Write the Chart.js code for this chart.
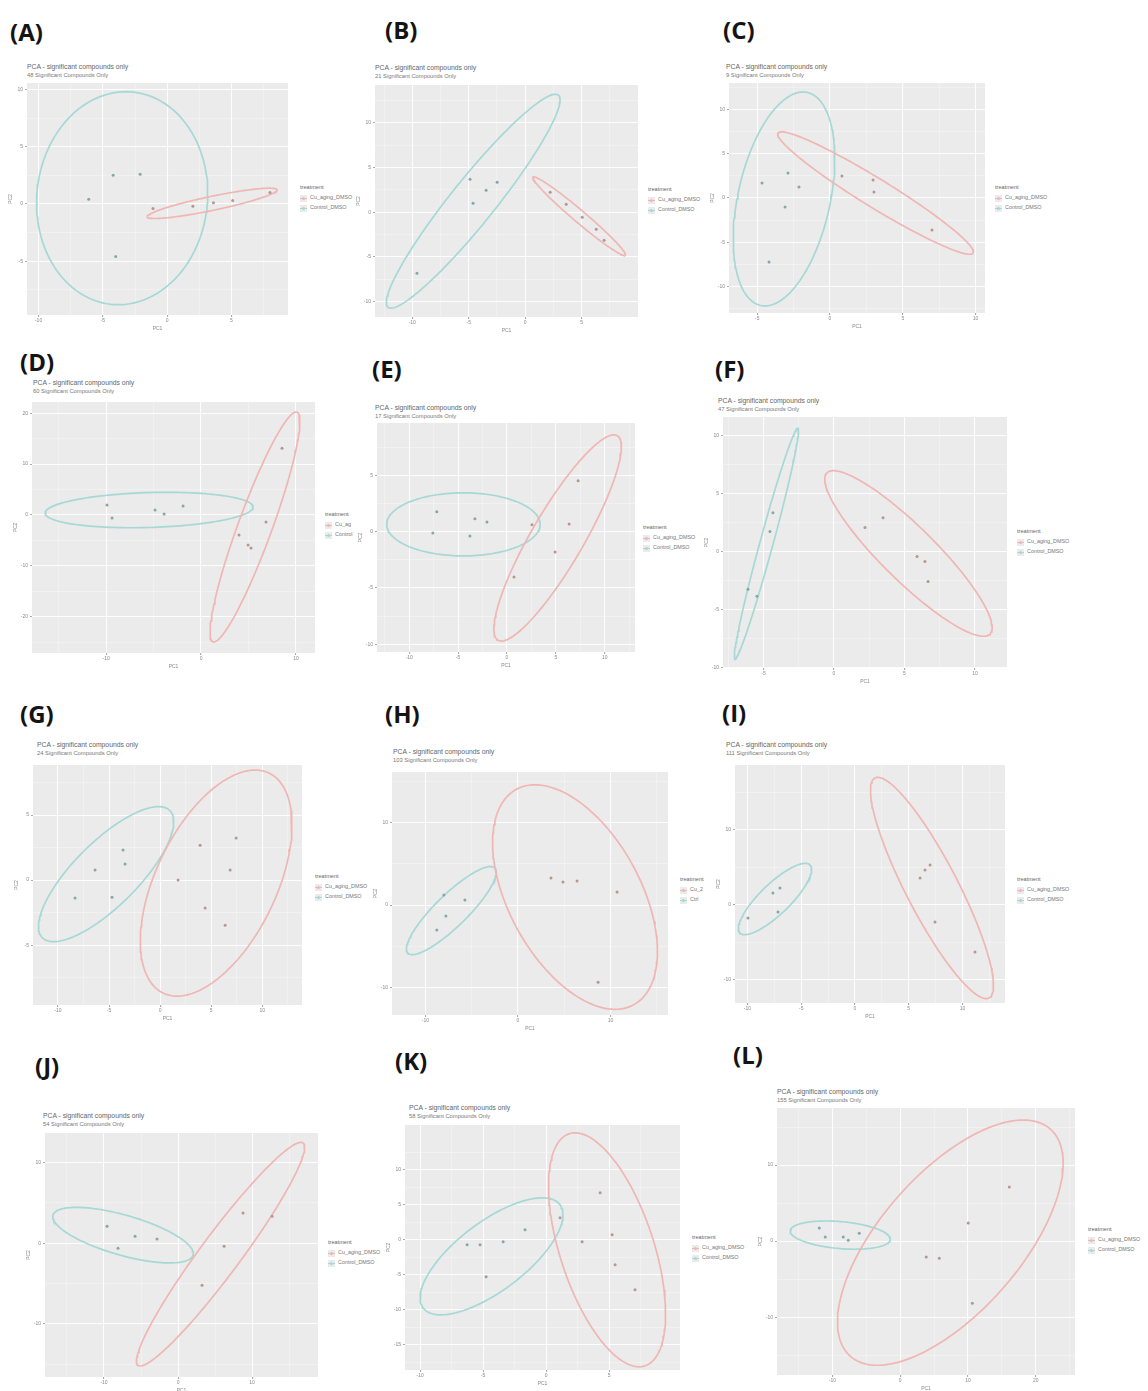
<!DOCTYPE html>
<html>
<head>
<meta charset="utf-8">
<title>PCA - significant compounds only</title>
<script src="https://cdn.jsdelivr.net/npm/chart.js@4.4.1/dist/chart.umd.min.js"></script>
<style>
  html, body { margin: 0; padding: 0; background: #ffffff; }
  #fig { position: relative; width: 1148px; height: 1391px; overflow: hidden;
         font-family: 'Liberation Sans', Arial, sans-serif; }
  .tag { position: absolute; font-family: 'Open Sans', sans-serif; font-weight: 700;
         font-size: 24px; line-height: 1; color: #141414; }
  .ttl { position: absolute; font-size: 6.8px; line-height: 1; color: #666; white-space: nowrap; }
  .sub { position: absolute; font-size: 5.8px; line-height: 1; color: #777; white-space: nowrap; }
  .lgt { position: absolute; font-size: 5.6px; line-height: 1; color: #666; white-space: nowrap; }
  .lge { position: absolute; font-size: 5.4px; line-height: 1; color: #777; white-space: nowrap; }
  .key { position: absolute; width: 7px; height: 7px; background: #ebebeb; }
  .key i { position: absolute; left: 2px; top: 2px; width: 3px; height: 3px; border-radius: 50%; }
  .key b { position: absolute; left: 0; top: 3px; width: 7px; height: 1px; }
  canvas { position: absolute; }
</style>
</head>
<body>
<div id="fig"></div>
<script>
// ---------------- data: PCA scores per panel (PC1, PC2) ----------------
const panelIds = ['A', 'B', 'C', 'D', 'E', 'F', 'G', 'H', 'I', 'J', 'K', 'L'];
const compoundCounts = [48, 21, 9, 60, 17, 47, 24, 103, 111, 54, 58, 155];

// treated group (first legend level, salmon)
const treatedPC1 = [
  [-1.1, 2.0, 3.6, 5.1, 8.0],
  [2.22, 3.64, 5.06, 6.3, 7.0],
  [0.82, 2.96, 3.02, 7.01],
  [8.53, 6.84, 4.0, 4.95, 5.26],
  [7.28, 6.36, 4.92, 0.72, 2.56],
  [2.2, 3.48, 5.89, 6.45, 6.67],
  [1.76, 3.92, 6.86, 7.45, 4.41, 6.37],
  [3.57, 4.86, 6.38, 10.7, 8.65],
  [6.05, 6.51, 6.98, 7.44, 11.16],
  [8.78, 12.7, 6.22, 3.24],
  [1.11, 4.29, 2.86, 5.24, 5.48, 7.06],
  [16.1, 10.04, 3.84, 5.76, 10.64]
];
const treatedPC2 = [
  [-0.4, -0.2, 0.1, 0.3, 1.0],
  [2.23, 0.89, -0.56, -1.9, -3.13],
  [2.49, 2.03, 0.68, -3.62],
  [13.1, -1.37, -3.92, -5.88, -6.47],
  [4.55, 0.71, -1.79, -4.02, 0.63],
  [2.06, 2.92, -0.43, -0.86, -2.58],
  [0, 2.69, 0.77, 3.23, -2.15, -3.46],
  [3.27, 2.79, 2.91, 1.58, -9.33],
  [3.6, 4.67, 5.33, -2.27, -6.27],
  [3.73, 3.35, -0.37, -5.22],
  [3.14, 6.71, -0.29, 0.71, -3.57, -7.14],
  [7.1, 2.37, -2.1, -2.24, -8.16]
];

// control group (second legend level, teal)
const controlPC1 = [
  [-4.2, -2.1, -6.1, -4.0],
  [-9.58, -4.61, -3.46, -2.48, -4.88],
  [-4.67, -2.89, -2.13, -3.09, -4.19],
  [-9.9, -9.37, -4.84, -3.89, -1.89],
  [-7.18, -3.28, -2.05, -7.59, -3.79],
  [-4.33, -4.54, -6.1, -5.46],
  [-8.33, -6.37, -4.71, -3.63, -3.43],
  [-8.0, -5.73, -7.78, -8.76],
  [-9.95, -7.63, -6.98, -7.16],
  [-9.59, -5.81, -2.84, -8.11],
  [-6.27, -5.24, -3.41, -1.67, -4.76],
  [-11.96, -11.08, -8.42, -7.68, -6.06]
];
const controlPC2 = [
  [2.5, 2.6, 0.4, -4.6],
  [-6.82, 1.0, 2.46, 3.35, 3.69],
  [1.69, 2.82, 1.24, -1.02, -7.23],
  [1.96, -0.59, 0.98, 0.2, 1.76],
  [1.79, 1.16, 0.89, -0.09, -0.36],
  [3.35, 1.72, -3.26, -3.86],
  [-1.38, 0.77, -1.31, 2.31, 1.23],
  [1.21, 0.61, -1.33, -3.03],
  [-1.73, 1.6, 2.27, -0.93],
  [2.11, 0.87, 0.5, -0.62],
  [-0.71, -0.71, -0.29, 1.43, -5.29],
  [1.71, 0.53, 0.53, 0.13, 1.05]
];

// 95% ellipses: centre (cx, cy) and two conjugate semi-diameters (ux, uy), (vx, vy)
const treatedEllipse = [
  [3.5, 0.05, 5.05, 1.18, 0.11, -0.6],
  [4.79, -0.45, 4.08, -4.36, -0.35, -0.51],
  [3.13, 0.56, 6.70, -6.78, -0.52, -1.38],
  [5.68, -2.35, 4.42, 22.55, 1.68, -1.14],
  [5.18, -0.54, 6.10, 9.11, 2.31, -1.17],
  [5.28, -0.17, 5.78, -6.95, 1.35, 1.64],
  [5.49, -0.23, 3.82, 8.69, 6.37, 0],
  [6.16, 0.97, -4.32, 13.58, 7.78, 0],
  [7.16, 2.27, -5.3, 14.67, 2.15, 1.6],
  [5.74, -1.37, 11.15, 13.79, 2.16, -1.49],
  [4.84, -1.43, -2.54, 16.71, 3.89, 0],
  [7.39, -0.2, 10.78, 16.12, 12.7, 0]
];
const controlEllipse = [
  [-3.5, 0.5, 6.65, 0, 0.3, 9.3],
  [-4.6, 1.23, 7.54, 11.84, 1.53, -1.54],
  [-3.16, -0.11, 1.31, 12.09, 3.23, 0],
  [-5.47, 0.98, 10.95, 0.59, 0, 3.43],
  [-4.46, 0.67, 7.85, 0, 0, 2.81],
  [-4.79, 0.69, 2.23, 9.96, 0.45, -0.15],
  [-5.29, 0.46, 6.24, 4.89, 2.22, -1.74],
  [-7.19, -0.67, 4.70, 5.15, 1.21, -1.38],
  [-7.44, 0.8, 3.26, 4.53, 0.98, -1.44],
  [-7.43, 0.99, 9.46, -2.48, 0.74, 2.39],
  [-4.33, -2.36, 5.67, 5.93, 0, 5.89],
  [-8.86, 0.79, 7.39, -0.53, 0, 1.78]
];

// axis limits and tick labels
const xLimits = [[-10.9, 9.4], [-13.3, 10.0], [-6.94, 10.65], [-17.8, 12.0], [-13.3, 13.1], [-7.87, 12.27],
                 [-12.45, 13.9], [-13.6, 16.2], [-11.16, 13.95], [-17.97, 18.9], [-11.2, 10.63], [-18.2, 25.8]];
const yLimits = [[-9.7, 10.56], [-11.7, 14.2], [-13.0, 13.0], [-27.1, 22.2], [-10.7, 9.7], [-10.05, 11.6],
                 [-9.6, 8.85], [-13.3, 16.1], [-13.07, 18.67], [-16.6, 13.66], [-18.6, 16.4], [-17.6, 17.5]];
const xTickValues = [[-10, -5, 0, 5], [-10, -5, 0, 5], [-5, 0, 5, 10], [-10, 0, 10], [-10, -5, 0, 5, 10], [-5, 0, 5, 10],
                     [-10, -5, 0, 5, 10], [-10, 0, 10], [-10, -5, 0, 5, 10], [-10, 0, 10], [-10, -5, 0, 5], [-10, 0, 10, 20]];
const yTickValues = [[-5, 0, 5, 10], [-10, -5, 0, 5, 10], [-10, -5, 0, 5, 10], [-20, -10, 0, 10, 20], [-10, -5, 0, 5],
                     [-10, -5, 0, 5, 10], [-5, 0, 5], [-10, 0, 10], [-10, 0, 10], [-10, 0, 10], [-15, -10, -5, 0, 5, 10],
                     [-10, 0, 10]];

const treatedLabels = ['Cu_aging_DMSO', 'Cu_aging_DMSO', 'Cu_aging_DMSO', 'Cu_ag', 'Cu_aging_DMSO', 'Cu_aging_DMSO',
                       'Cu_aging_DMSO', 'Cu_2', 'Cu_aging_DMSO', 'Cu_aging_DMSO', 'Cu_aging_DMSO', 'Cu_aging_DMSO'];
const controlLabels = ['Control_DMSO', 'Control_DMSO', 'Control_DMSO', 'Control', 'Control_DMSO', 'Control_DMSO',
                       'Control_DMSO', 'Ctrl', 'Control_DMSO', 'Control_DMSO', 'Control_DMSO', 'Control_DMSO'];

// ---------------- layout (page pixels) ----------------
// plot panel rectangles: left, top, right, bottom
const plotRect = [
  [27, 83, 288, 315], [375, 85, 638, 317], [729, 83, 985, 313],
  [32, 402, 315, 653], [377, 423, 635, 652], [723, 417, 1007, 668],
  [33, 765, 302, 1005], [392, 772, 668, 1015], [735, 765, 1005, 1003],
  [45, 1133, 318, 1377], [405, 1125, 680, 1370], [777, 1108, 1075, 1375]
];
const tagPos = [[10, 22], [385, 20], [723, 20], [20, 352], [372, 359], [715, 359],
                [20, 704], [385, 704], [722, 703], [35, 1056], [395, 1051], [733, 1045]];
const titlePos = [[27, 67], [375, 68], [726, 67], [33, 383], [375, 408], [718, 401],
                  [37, 745], [393, 752], [726, 745], [43, 1116], [409, 1108], [777, 1092]];
const legendPos = [[300, 188], [648, 190], [995, 188], [325, 515], [643, 528], [1017, 532],
                   [315, 877], [680, 880], [1017, 880], [328, 1243], [692, 1238], [1088, 1230]];

const SALMON_LINE = '#efb6b4';
const TEAL_LINE = '#a6d8d5';
const SALMON_PT = '#b99592';
const TEAL_PT = '#83a8a6';
const PANEL_BG = '#ebebeb';

const Y_AXIS_W = 20, X_AXIS_H = 18, PAD = 8;

Chart.defaults.font.family = "'Liberation Sans', Arial, sans-serif";

// grey panel behind the grid, as in a ggplot theme_gray plot
const panelBackground = {
  id: 'panelBackground',
  beforeDraw(chart) {
    const { ctx, chartArea: a } = chart;
    ctx.save();
    ctx.fillStyle = PANEL_BG;
    ctx.fillRect(a.left, a.top, a.right - a.left, a.bottom - a.top);
    ctx.restore();
  }
};

// outline of an ellipse from its centre and conjugate semi-diameters
function ellipseOutline(e) {
  const [cx, cy, ux, uy, vx, vy] = e;
  const pts = [];
  const n = 144;
  for (let k = 0; k <= n; k++) {
    const t = (k / n) * Math.PI * 2;
    pts.push({ x: cx + ux * Math.cos(t) + vx * Math.sin(t), y: cy + uy * Math.cos(t) + vy * Math.sin(t) });
  }
  return pts;
}

function scores(xs, ys) {
  return xs.map((x, k) => ({ x, y: ys[k] }));
}

// major ticks from the label list plus minor grid lines half-way between them
function gridTicks(values, lo, hi) {
  const step = values.length > 1 ? values[1] - values[0] : 1;
  const out = [];
  const minorVals = [values[0] - step / 2];
  values.forEach(v => minorVals.push(v + step / 2));
  values.forEach(v => { if (v >= lo && v <= hi) out.push({ value: v, minor: false }); });
  minorVals.forEach(v => { if (v > lo && v < hi) out.push({ value: v, minor: true }); });
  out.sort((a, b) => a.value - b.value);
  return out;
}

function axis(values, lim, isX) {
  return {
    type: 'linear',
    min: lim[0],
    max: lim[1],
    afterBuildTicks: s => { s.ticks = gridTicks(values, lim[0], lim[1]); },
    afterFit: s => { if (isX) s.height = X_AXIS_H; else s.width = Y_AXIS_W; },
    ticks: {
      autoSkip: false,
      maxRotation: 0,
      padding: isX ? 1 : 2,
      color: '#8a8a8a',
      font: { size: 5 },
      callback: function (v, idx, ticks) { return ticks[idx].minor ? '' : String(v); }
    },
    grid: {
      color: c => (c.tick && c.tick.minor) ? 'rgba(255,255,255,0.5)' : 'rgba(255,255,255,0.9)',
      lineWidth: c => (c.tick && c.tick.minor) ? 0.6 : 1.1,
      drawTicks: true,
      tickLength: 2,
      tickColor: c => (c.tick && c.tick.minor) ? 'rgba(0,0,0,0)' : '#aaaaaa'
    },
    border: { display: false },
    title: {
      display: true,
      text: isX ? 'PC1' : 'PC2',
      color: '#888',
      font: { size: 5 },
      padding: { top: 1, bottom: 1 }
    }
  };
}

const fig = document.getElementById('fig');

function addText(cls, text, x, y) {
  const d = document.createElement('div');
  d.className = cls;
  d.textContent = text;
  d.style.left = x + 'px';
  d.style.top = y + 'px';
  fig.appendChild(d);
  return d;
}

function addLegendEntry(x, y, color, label) {
  const k = document.createElement('div');
  k.className = 'key';
  k.style.left = x + 'px';
  k.style.top = (y - 3.5) + 'px';
  const line = document.createElement('b');
  line.style.background = color;
  const dot = document.createElement('i');
  dot.style.background = color;
  k.appendChild(line);
  k.appendChild(dot);
  fig.appendChild(k);
  addText('lge', label, x + 10, y - 2.7);
}

panelIds.forEach((id, i) => {
  const [L, T, R, B] = plotRect[i];

  addText('tag', '(' + id + ')', tagPos[i][0], tagPos[i][1] - 2);
  addText('ttl', 'PCA - significant compounds only', titlePos[i][0], titlePos[i][1] - 3.4);
  addText('sub', compoundCounts[i] + ' Significant Compounds Only', titlePos[i][0], titlePos[i][1] + 6);

  const [lx, ly] = legendPos[i];
  addText('lgt', 'treatment', lx, ly - 2.8);
  addLegendEntry(lx, ly + 10, SALMON_LINE, treatedLabels[i]);
  addLegendEntry(lx, ly + 20, TEAL_LINE, controlLabels[i]);

  const cv = document.createElement('canvas');
  const w = (R - L) + Y_AXIS_W + PAD;
  const h = (B - T) + X_AXIS_H + PAD;
  cv.width = w; cv.height = h;
  cv.style.width = w + 'px'; cv.style.height = h + 'px';
  cv.style.left = (L - Y_AXIS_W) + 'px';
  cv.style.top = (T - PAD) + 'px';
  fig.appendChild(cv);

  new Chart(cv, {
    type: 'scatter',
    data: {
      datasets: [
        { label: treatedLabels[i], data: scores(treatedPC1[i], treatedPC2[i]),
          pointRadius: 1.5, pointBackgroundColor: SALMON_PT, pointBorderWidth: 0 },
        { label: controlLabels[i], data: scores(controlPC1[i], controlPC2[i]),
          pointRadius: 1.5, pointBackgroundColor: TEAL_PT, pointBorderWidth: 0 },
        { label: 'ellipse-treated', data: ellipseOutline(treatedEllipse[i]), showLine: true,
          borderColor: SALMON_LINE, borderWidth: 1.7, pointRadius: 0, fill: false, tension: 0 },
        { label: 'ellipse-control', data: ellipseOutline(controlEllipse[i]), showLine: true,
          borderColor: TEAL_LINE, borderWidth: 1.7, pointRadius: 0, fill: false, tension: 0 }
      ]
    },
    options: {
      responsive: false,
      animation: false,
      devicePixelRatio: 1,
      events: [],
      layout: { padding: { top: PAD, right: PAD, left: 0, bottom: 0 } },
      plugins: { legend: { display: false }, tooltip: { enabled: false }, title: { display: false } },
      scales: {
        x: axis(xTickValues[i], xLimits[i], true),
        y: axis(yTickValues[i], yLimits[i], false)
      }
    },
    plugins: [panelBackground]
  });
});
</script>
</body>
</html>
